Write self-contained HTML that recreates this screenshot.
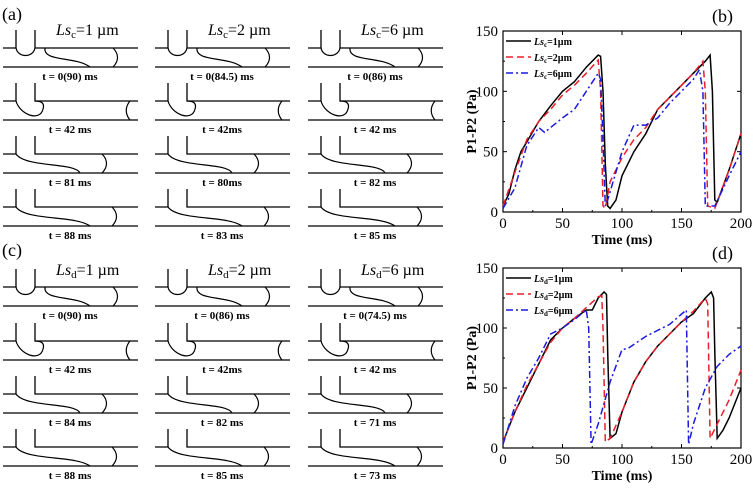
<!DOCTYPE html>
<html><head><meta charset="utf-8"><style>
body{margin:0;background:#fff;width:754px;height:493px;overflow:hidden}
svg{display:block;font-family:"Liberation Serif",serif}
</style></head><body>
<svg id="fig" width="754" height="493"></svg>
<script>
const timeB=[0,5,10,15,20,30,40,50,60,70,80,82,84,86,88,90,95,100,110,120,130,140,150,160,170,174,176,178,180,190,200];
const lsc1=[5,15,35,50,58,75,88,100,108,120,130,129,100,40,5,3,10,30,50,65,85,95,105,115,125,130,100,10,8,35,65];
const timeB2=[0,10,20,30,40,50,60,70,80,82,84,86,90,100,110,120,130,140,150,160,168,170,172,178,190,200];
const lsc2=[5,33,60,75,85,97,105,115,126,100,5,3,25,45,60,70,85,95,105,115,125,100,5,3,35,65];
const timeB6=[0,10,20,30,35,50,60,70,80,82,84,86,88,100,110,120,130,140,150,160,165,168,170,178,190,200];
const lsc6=[3,20,55,70,66,78,85,100,115,110,60,5,10,50,72,72,78,90,100,110,118,100,5,5,30,50];
const timeD1=[0,10,20,30,40,50,60,70,75,80,85,87,88,90,95,100,110,120,130,140,150,160,170,175,177,178,180,185,190,200];
const lsd1=[5,30,50,70,90,100,108,115,115,125,130,128,80,8,12,30,55,72,85,95,105,112,125,130,125,80,8,15,25,50];
const timeD2=[0,10,20,30,40,50,60,70,80,83,84,86,90,100,110,120,130,140,150,160,170,172,174,180,190,200];
const lsd2=[5,30,52,70,88,100,108,117,126,127,100,5,8,30,55,72,85,95,105,114,125,120,8,20,40,65];
const timeD6=[0,10,20,30,40,50,60,70,72,74,80,90,100,105,120,140,154,156,160,170,180,190,200];
const lsd6=[3,35,58,75,95,100,107,115,100,3,20,55,82,83,93,103,115,3,20,50,68,78,85];
const xTicks=[0,50,100,150,200];
const yTicks=[0,50,100,150];
const titlesA=["1","2","6"];
const labelsA=[["t = 0(90) ms","t = 42 ms","t = 81 ms","t = 88 ms"],["t = 0(84.5) ms","t = 42ms","t = 80ms","t = 83 ms"],["t = 0(86) ms","t = 42 ms","t = 82 ms","t = 85 ms"]];
const labelsC=[["t = 0(90) ms","t = 42 ms","t = 84 ms","t = 88 ms"],["t = 0(86) ms","t = 42ms","t = 82 ms","t = 85 ms"],["t = 0(74.5) ms","t = 42 ms","t = 71 ms","t = 73 ms"]];

const NS="http://www.w3.org/2000/svg";
const svg=document.getElementById('fig');
function mk(tag,attrs,parent){const e=document.createElementNS(NS,tag);for(const k in attrs)e.setAttribute(k,attrs[k]);(parent||svg).appendChild(e);return e;}

const colX=[3,155,308];
function cell(cx,top,row,label,g){
  const b=top+19,s1=cx+13,s2=cx+32,E=cx+135;
  const p=mk('path',{d:`M${cx} ${top}H${s1}V${top-18}M${s2} ${top-18}V${top}H${E}M${cx} ${b}H${E}`,fill:'none',stroke:'#000','stroke-width':1.3},g);
  
  let d;
  if(row===0){d=`M${s1} ${top}C${s1+2} ${top+10} ${s2-2} ${top+10} ${s2} ${top}M${s2+10} ${top}C${s2+8} ${top+14} ${s2+40} ${top+8} ${s2+55} ${b}M${s2+78} ${top}C${s2+84} ${top+6} ${s2+84} ${top+13} ${s2+78} ${b}`;}
  else if(row===1){d=`M${s1} ${top}C${s1+4} ${top+14} ${s2+5} ${b+2} ${s2+8} ${top+8}C${s2+10} ${top+2} ${s2+6} ${top} ${s2} ${top}M${E-8} ${top}C${E-13} ${top+6} ${E-13} ${top+13} ${E-8} ${b}`;}
  else{const r=row===2?45:55;d=`M${s1} ${top}C${s1+10} ${top+14} ${s2+40} ${top+8} ${s2+r} ${b}M${s2+r+22} ${top}C${s2+r+28} ${top+6} ${s2+r+28} ${top+13} ${s2+r+22} ${b}`;}
  const i=mk('path',{d,fill:'none',stroke:'#000','stroke-width':1.2},g);
  
  const t=mk('text',{x:cx+67,y:b+13,'text-anchor':'middle','font-size':11,'font-weight':'bold'},g);t.textContent=label;
  
}
function schem(tops,labels,sub,titleY,panel,panelY){
  const g=mk('g',{});
  const pl=mk('text',{x:2,y:panelY,'font-size':18},g);pl.textContent='('+panel+')';
  
  for(let c=0;c<3;c++){
    const tt=mk('text',{x:colX[c]+53,y:titleY,'font-size':16},g);
    tt.innerHTML=`<tspan font-style="italic">Ls</tspan><tspan font-size="11" dy="3">${sub}</tspan><tspan dy="-3">=${titlesA[c]} µm</tspan>`;
    
    for(let r=0;r<4;r++)cell(colX[c],tops[r],r,labels[c][r],g);
  }
}
schem([48,101,154,207],labelsA,'c',35,'a',20);
schem([287,341,394,447],labelsC,'d',275,'c',256);

function chart(top,bottom,series,panel,sub){
  const L=503,R=741;
  const g=mk('g',{});
  const X=v=>L+(R-L)*v/200, Y=v=>bottom-(bottom-top)*v/150;
  const fr=mk('rect',{x:L,y:top,width:R-L,height:bottom-top,fill:'none',stroke:'#000','stroke-width':1.2},g);
  
  xTicks.forEach(v=>{mk('line',{x1:X(v),x2:X(v),y1:bottom,y2:bottom-4,stroke:'#000'},g);mk('line',{x1:X(v),x2:X(v),y1:top,y2:top+4,stroke:'#000'},g);
    const t=mk('text',{x:X(v),y:bottom+16,'text-anchor':'middle','font-size':15},g);t.textContent=v;
    });
  for(let v=25;v<200;v+=50){mk('line',{x1:X(v),x2:X(v),y1:bottom,y2:bottom-2,stroke:'#000'},g);}
  yTicks.forEach(v=>{mk('line',{x1:L,x2:L+4,y1:Y(v),y2:Y(v),stroke:'#000'},g);mk('line',{x1:R,x2:R-4,y1:Y(v),y2:Y(v),stroke:'#000'},g);
    const t=mk('text',{x:L-5,y:Y(v)+5,'text-anchor':'end','font-size':15},g);t.textContent=v;
    });
  for(let v=25;v<150;v+=50)mk('line',{x1:L,x2:L+2,y1:Y(v),y2:Y(v),stroke:'#000'},g);
  const xt=mk('text',{x:(L+R)/2,y:bottom+32,'text-anchor':'middle','font-size':14,'font-weight':'bold'},g);xt.textContent='Time (ms)';
  
  const cy=(top+bottom)/2;
  const yt=mk('text',{x:476,y:cy,'text-anchor':'middle','font-size':14,'font-weight':'bold',transform:`rotate(-90 476 ${cy})`},g);yt.textContent='P1-P2 (Pa)';
  
  const pl=mk('text',{x:712,y:top-9,'font-size':18},g);pl.textContent='('+panel+')';
  
  const styles=[['#000',''],['#e8202a','7 4'],['#1a1adf','7 3 2 3']];
  const vals=['1','2','6'];
  series.forEach((s,i)=>{
    const d=s[0].map((t,j)=>(j?'L':'M')+X(t).toFixed(1)+' '+Y(s[1][j]).toFixed(1)).join('');
    const p=mk('path',{d,fill:'none',stroke:styles[i][0],'stroke-width':1.5,'stroke-dasharray':styles[i][1]},g);
    
    const ly=top+10+i*16;
    const ll=mk('line',{x1:L+3,x2:L+28,y1:ly,y2:ly,stroke:styles[i][0],'stroke-width':1.5,'stroke-dasharray':styles[i][1]},g);
    
    const lt=mk('text',{x:L+31,y:ly+4,'font-size':10,'font-weight':'bold'},g);
    lt.innerHTML=`<tspan font-style="italic">Ls</tspan><tspan font-size="7" dy="2">${sub}</tspan><tspan dy="-2">=${vals[i]}µm</tspan>`;
    
  });
}
chart(31,212,[[timeB,lsc1],[timeB2,lsc2],[timeB6,lsc6]],'b','c');
chart(268,448,[[timeD1,lsd1],[timeD2,lsd2],[timeD6,lsd6]],'d','d');
</script>
</body></html>
